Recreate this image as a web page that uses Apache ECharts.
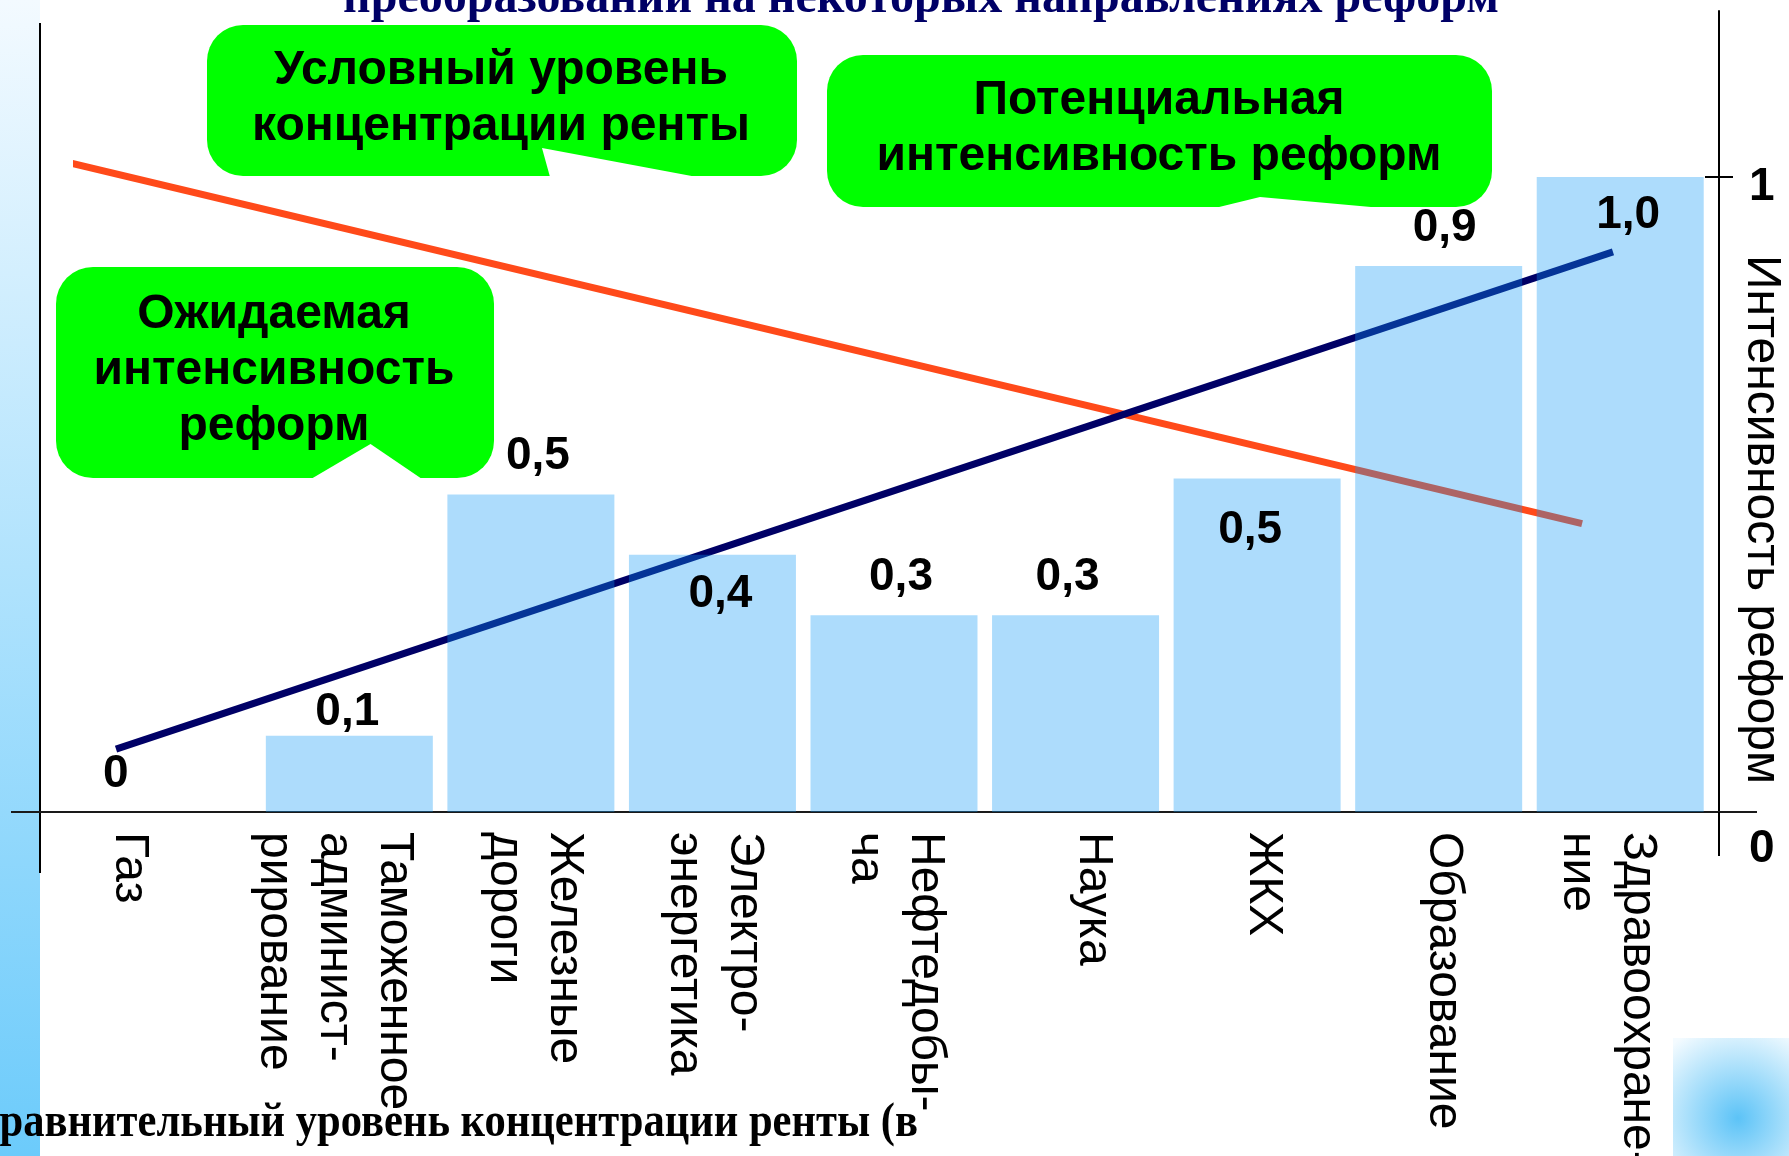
<!DOCTYPE html>
<html>
<head>
<meta charset="utf-8">
<script src="https://cdn.jsdelivr.net/npm/echarts@6/dist/echarts.min.js"></script>
<style>
html,body{margin:0;padding:0;background:#fff}
#main{width:1789px;height:1156px}
</style>
</head>
<body>
<div id="main"></div>
<script>
// data
var categories = ['Газ', 'Таможенное\nадминист-\nрирование', 'Железные\nдороги', 'Электро-\nэнергетика',
    'Нефтедобы-\nча', 'Наука', 'ЖКХ', 'Образование', 'Здравоохране-\nние']
var potentialValues = [0, 0.12, 0.50, 0.405, 0.31, 0.31, 0.525, 0.86, 1.0]
var potentialLabels = ['0', '0,1', '0,5', '0,4', '0,3', '0,3', '0,5', '0,9', '1,0']
var expectedLine = [[-0.285, 0.099], [7.96, 0.882]]
var rentLine = [[-0.61, 1.027], [7.79, 0.454]]
var rightTicks = [0, 1]
var rightTickLabels = ['0', '1']

// label placement (style only)
var labelPos = ['top', 'top', 'top', 'insideTop', 'top', 'top', 'insideTop', 'top', 'insideTop']
var labelDist = [15, 0, 15, 16, 15, 15, 29, 15, 15]
var labelDx = [-52, -2, 7, 8, 7, -8, -7, 6, 8]
var catShift = [-39, -15, 3, 2, 1, 18, 6, 5, -13]

var SANS = '"Liberation Sans", Arial, sans-serif'
var SERIF = '"Liberation Serif", "Times New Roman", serif'

var chart = echarts.init(document.getElementById('main'), null, {renderer: 'canvas'})

// rotated labels: an empty spacer line moves the text block sideways
var catRich = {}
catShift.forEach(function (s, i) {
    catRich['s' + i] = {fontSize: 1, lineHeight: Math.max(1, Math.abs(s) * 2)}
})
function catFormatter(value, i) {
    var s = catShift[i]
    if (s < 0) return '{s' + i + '| }\n' + value
    if (s > 0) return value + '\n{s' + i + '| }'
    return value
}

var barData = potentialValues.map(function (v, i) {
    return {
        value: v,
        label: {
            position: labelPos[i],
            distance: labelDist[i],
            offset: [labelDx[i], 0],
            formatter: potentialLabels[i]
        }
    }
})

function txt(x, y, text, size, family, color, align, lh, sx) {
    return {
        type: 'text', x: x, y: y, z: 8, scaleX: sx || 1,
        style: {
            text: text, fontSize: size, fontWeight: 'bold', fontFamily: family,
            fill: color, align: align || 'center', verticalAlign: 'middle', lineHeight: lh
        }
    }
}

var green = '#00ff00'
var GRID_LEFT = 77, GRID_W = 1634

chart.setOption({
    backgroundColor: '#fff',
    animation: false,
    grid: {left: GRID_LEFT, top: 11, width: GRID_W, height: 801, outerBoundsMode: 'none', containLabel: false},
    xAxis: [{
        type: 'category',
        data: categories,
        boundaryGap: true,
        axisLine: {show: true, onZero: false, lineStyle: {color: '#1a1a1a', width: 2}},
        axisTick: {show: false},
        axisLabel: {
            interval: 0, rotate: -90, margin: 20,
            fontSize: 48, lineHeight: 60, fontFamily: SANS, color: '#000',
            formatter: catFormatter, rich: catRich
        }
    }, {
        type: 'value', min: -0.5, max: 8.5, show: false,
        axisLine: {onZero: false}
    }],
    yAxis: [{
        type: 'value', position: 'right', offset: 8,
        min: 0, max: 1.2614,
        axisLine: {show: true, onZero: false, lineStyle: {color: '#000', width: 2}},
        axisTick: {show: true, length: 14, customValues: [1], lineStyle: {color: '#000', width: 2}},
        axisLabel: {
            customValues: rightTicks, margin: 30,
            formatter: function (v) {
                var t = rightTickLabels[rightTicks.indexOf(v)]
                return v === 0 ? '{zero|' + t + '}' : '{one|' + t + '}'
            },
            rich: {
                zero: {padding: [74, 0, 0, 0], fontSize: 46, fontWeight: 'bold', fontFamily: SANS, color: '#000'},
                one: {padding: [20, 0, 0, 0], fontSize: 46, fontWeight: 'bold', fontFamily: SANS, color: '#000'}
            }
        },
        splitLine: {show: false},
        name: 'Интенсивность реформ',
        nameLocation: 'middle',
        nameRotate: -90,
        nameGap: 18,
        nameMoveOverlap: false,
        nameTextStyle: {fontSize: 48, fontFamily: SANS, color: '#000', padding: [0, 0, 0, 216]}
    }, {
        // inner half of the tick at 1, placed on the right axis line
        type: 'value', position: 'left', offset: GRID_LEFT - 1719,
        min: 0, max: 1.2614,
        axisLine: {show: false, onZero: false},
        axisTick: {show: true, length: 14, customValues: [1], lineStyle: {color: '#000', width: 2}},
        axisLabel: {show: false},
        splitLine: {show: false}
    }],
    series: [{
        name: 'Условный уровень концентрации ренты',
        type: 'line',
        xAxisIndex: 1, yAxisIndex: 0,
        data: rentLine,
        symbol: 'none', clip: false, z: 2,
        lineStyle: {color: '#ff4a1a', width: 7, cap: 'butt'}
    }, {
        name: 'Ожидаемая интенсивность реформ',
        type: 'line',
        xAxisIndex: 1, yAxisIndex: 0,
        data: expectedLine,
        symbol: 'none', clip: false, z: 2,
        lineStyle: {color: '#000066', width: 7, cap: 'butt'}
    }, {
        name: 'Потенциальная интенсивность реформ',
        type: 'bar',
        xAxisIndex: 0, yAxisIndex: 0,
        data: barData,
        barWidth: 167, z: 3,
        itemStyle: {color: 'rgba(14,153,247,0.34)'},
        label: {
            show: true, fontSize: 46, fontWeight: 'bold', fontFamily: SANS, color: '#000'
        }
    }],
    graphic: {elements: [
        // left gradient strip and corner square
        {type: 'rect', z: 0, shape: {x: 0, y: 0, width: 40, height: 1156},
            style: {fill: new echarts.graphic.LinearGradient(0, 0, 0, 1, [
                {offset: 0, color: '#f3faff'}, {offset: 1, color: '#6ccbfb'}])}},
        {type: 'rect', z: 0, shape: {x: 1673, y: 1038, width: 116, height: 118},
            style: {fill: new echarts.graphic.RadialGradient(0.56, 0.68, 0.85, [
                {offset: 0, color: '#5cc3f7'}, {offset: 1, color: '#f4fbff'}])}},
        // frame lines
        {type: 'line', z: 3, shape: {x1: 40, y1: 23, x2: 40, y2: 873}, style: {stroke: '#000', lineWidth: 2}},
        {type: 'line', z: 3, shape: {x1: 11, y1: 812, x2: 77, y2: 812}, style: {stroke: '#1a1a1a', lineWidth: 2}},
        {type: 'line', z: 3, shape: {x1: 1711, y1: 812, x2: 1757, y2: 812}, style: {stroke: '#1a1a1a', lineWidth: 2}},
        {type: 'line', z: 3, shape: {x1: 1719, y1: 812, x2: 1719, y2: 856}, style: {stroke: '#000', lineWidth: 2}},
        // callouts
        {type: 'rect', z: 5, shape: {x: 207, y: 25, width: 590, height: 151, r: 36}, style: {fill: green}},
        {type: 'polygon', z: 6, shape: {points: [[550, 177], [542, 148], [697, 177]]}, style: {fill: '#fff'}},
        {type: 'rect', z: 5, shape: {x: 827, y: 55, width: 665, height: 152, r: 36}, style: {fill: green}},
        {type: 'polygon', z: 6, shape: {points: [[1215, 208], [1260, 197], [1382, 208]]}, style: {fill: '#fff'}},
        {type: 'rect', z: 5, shape: {x: 56, y: 267, width: 438, height: 211, r: 37}, style: {fill: green}},
        {type: 'polygon', z: 6, shape: {points: [[311, 479], [370.5, 444], [422, 479]]}, style: {fill: '#fff'}},
        txt(501, 99, 'Условный уровень\nконцентрации ренты', 48, SANS, '#000', 'center', 56),
        txt(1159, 129, 'Потенциальная\nинтенсивность реформ', 48, SANS, '#000', 'center', 56),
        txt(274, 371, 'Ожидаемая\nинтенсивность\nреформ', 48, SANS, '#000', 'center', 56),
        // cut-off slide texts
        txt(921, 0, 'преобразований на некоторых направлениях реформ', 48, SERIF, '#000066', 'center'),
        txt(918, 1124, 'Сравнительный уровень концентрации ренты (в', 48, SERIF, '#000', 'right', null, 0.887)
    ]}
})
</script>
</body>
</html>
